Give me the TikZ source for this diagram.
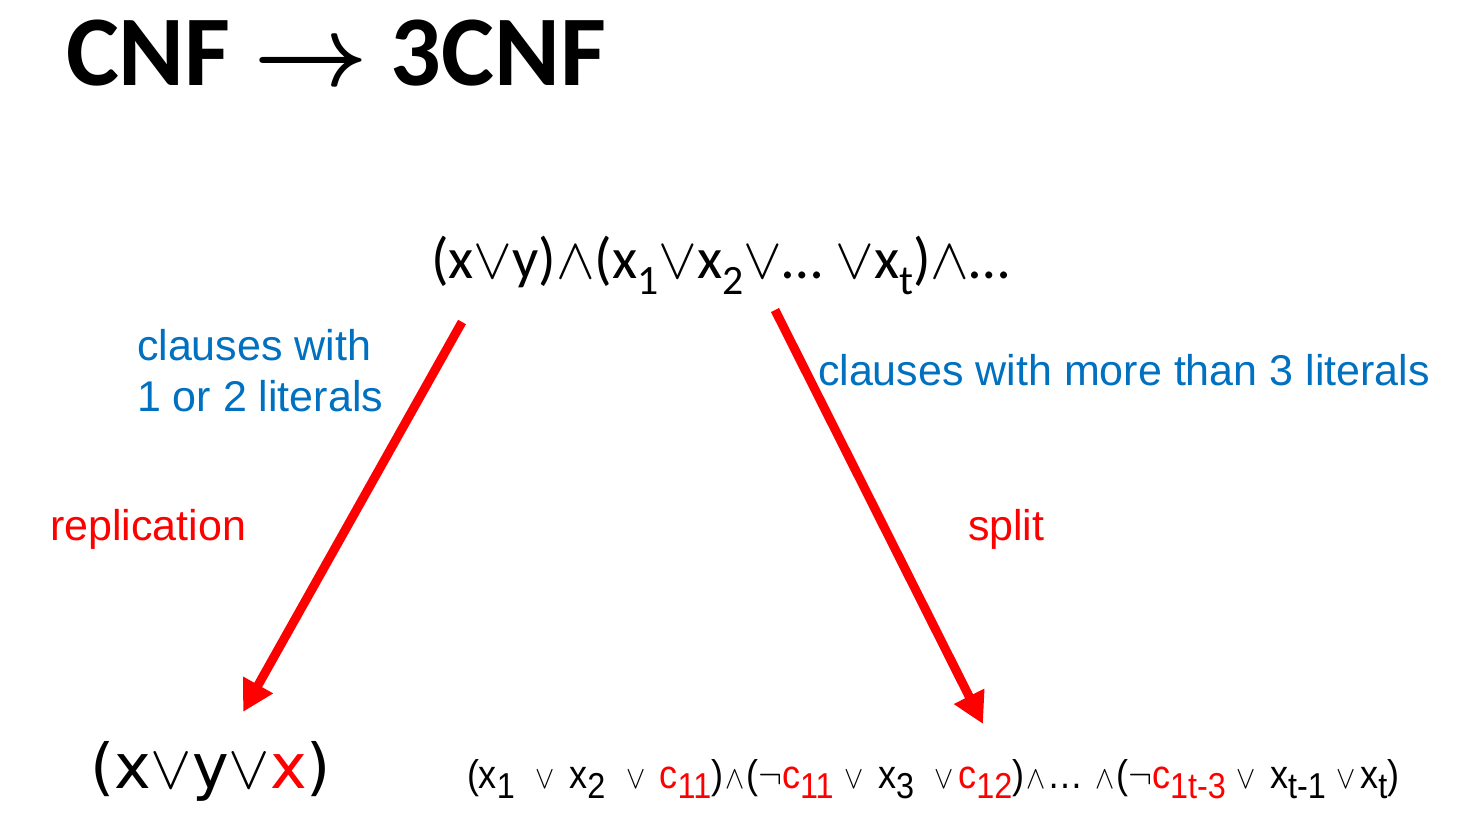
\RequirePackage{fix-cm}
\documentclass[tikz,border=0pt]{standalone}
\usepackage{fontspec}
\usepackage{graphicx}
\usetikzlibrary{arrows.meta}
\setmainfont{Carlito}
\newfontfamily\arialf{Liberation Sans}
\newfontfamily\dejavuf{DejaVu Sans}
\definecolor{ppblue}{RGB}{0,112,192}
\definecolor{ppred}{RGB}{255,0,0}
% lowered subscripts in the running font
\newcommand\lowsub[1]{\raisebox{-0.28em}{\scalebox{0.72}{#1}}}
\newcommand\bigsub[1]{\raisebox{-0.25em}{\scalebox{0.9}{#1}}}
% logical connectives, optionally scaled
\newcommand\orsym[1][1]{\scalebox{#1}{$\vee$}}
\newcommand\andsym[1][1]{\scalebox{#1}{$\wedge$}}
% connectives with side bearings for the split formula
\newcommand\sor{\hspace{0.3em}\orsym[0.8]\hspace{0.12em}}
\newcommand\sand{\hspace{0.05em}\andsym[0.8]\hspace{0.05em}}
\newcommand\rd[1]{\textcolor{ppred}{#1}}
\tikzset{
  lbl/.style={anchor=base west, inner sep=0pt, outer sep=0pt},
  redarrow/.style={draw=ppred, line width=9pt,
    -{Triangle[length=31pt,width=32pt]}},
  titlefont/.style={font=\fontsize{100}{100}\selectfont\bfseries\boldmath},
  sansfont/.style={font=\arialf\fontsize{43}{51}\selectfont}
}
\begin{document}
\begin{tikzpicture}[x=1pt,y=-1pt]
\useasboundingbox (0,0) rectangle (1457,819);

% title
\node[lbl, titlefont] (title) at (66,85) {CNF $\rightarrow$ 3CNF};

% source formula
\node[lbl, font=\fontsize{58}{58}\selectfont] (src) at (431,278)
  {(x\orsym y)\andsym(x\lowsub{1}\orsym x\lowsub{2}\orsym\ldots{} \orsym x\lowsub{t})\andsym\ldots};

% branch labels
\node[lbl, sansfont, align=left, text=ppblue] (lab1) at (137,411)
  {clauses with\\1 or 2 literals};
\node[lbl, sansfont, text=ppblue] (lab2) at (818,385)
  {clauses with more than 3 literals};
\node[lbl, sansfont, text=ppred] (rep) at (50,540) {replication};
\node[lbl, sansfont, text=ppred] (spl) at (968,540) {split};

% results
\node[lbl, font=\dejavuf\fontsize{62}{62}\selectfont] (res1) at (90,788)
  {(x\orsym y\orsym\rd{x})};
\node[lbl, font=\arialf\fontsize{40}{40}\selectfont] (res2) at (467,788)
  {\scalebox{0.9}[1]{(x\bigsub{1} \sor{} x\bigsub{2} \sor{} \rd{c\bigsub{11}})\sand($\neg$\rd{c\bigsub{11}}\sor{} x\bigsub{3} \sor\rd{c\bigsub{12}})\sand\ldots{} \sand($\neg$\rd{c\bigsub{1t-3}}\sor{} x\bigsub{t-1}\sor x\bigsub{t})}};

% arrows
\coordinate (a1s) at (462,322);
\coordinate (a1e) at (243,712);
\coordinate (a2s) at (775,310);
\coordinate (a2e) at (983,724);
\draw[redarrow] (a1s) -- (a1e);
\draw[redarrow] (a2s) -- (a2e);
\end{tikzpicture}
\end{document}
